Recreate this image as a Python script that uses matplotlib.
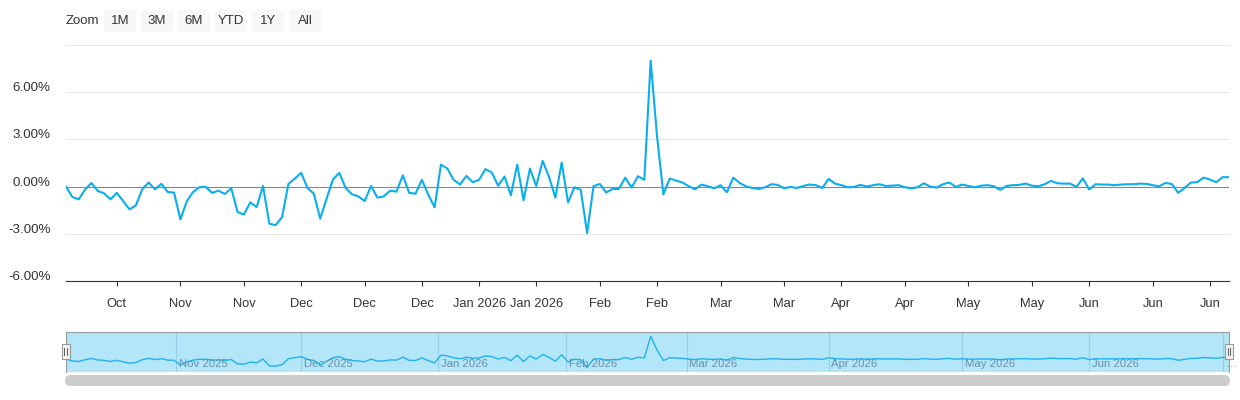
import numpy as np
import pandas as pd
import matplotlib
matplotlib.use("Agg")
import matplotlib.pyplot as plt
import matplotlib.transforms as mtrans
from matplotlib.patches import FancyBboxPatch, Rectangle

plt.rcParams['font.family'] = ['Liberation Sans', 'DejaVu Sans']

# trading calendar
start_day = "2025-10-08"
end_day = "2026-07-02"
holidays = ["2025-11-27", "2025-12-25", "2026-01-01", "2026-01-19",
            "2026-02-16", "2026-04-03", "2026-05-25", "2026-06-19"]

# daily change in %
returns = [
    0.00, -0.66, -0.81, -0.19, 0.23, -0.28, -0.43, -0.81, -0.40, -0.92,
    -1.45, -1.19, -0.17, 0.26, -0.17, 0.17, -0.34, -0.38, -2.09, -0.94,
    -0.34, -0.04, -0.02, -0.40, -0.26, -0.47, -0.11, -1.62, -1.77, -1.00,
    -1.30, 0.04, -2.36, -2.45, -1.94, 0.17, 0.51, 0.87, -0.09, -0.45,
    -2.04, -0.77, 0.45, 0.87, -0.09, -0.49, -0.62, -0.92, 0.04, -0.70,
    -0.62, -0.26, -0.32, 0.72, -0.40, -0.45, 0.43, -0.51, -1.32, 1.40,
    1.15, 0.43, 0.13, 0.68, 0.28, 0.43, 1.11, 0.89, 0.06, 0.64,
    -0.55, 1.40, -0.87, 1.15, 0.04, 1.64, 0.62, -0.70, 1.53, -1.00,
    -0.04, -0.21, -2.96, 0.02, 0.17, -0.38, -0.15, -0.15, 0.57, -0.06,
    0.66, 0.43, 8.00, 3.20, -0.49, 0.51, 0.38, 0.26, 0.02, -0.17,
    0.13, 0.02, -0.11, 0.09, -0.36, 0.57, 0.23, 0.02, -0.09, -0.15,
    -0.04, 0.15, 0.11, -0.11, -0.02, -0.09, 0.04, 0.13, 0.09, -0.09,
    0.49, 0.19, 0.09, -0.04, -0.02, 0.11, 0.00, 0.09, 0.15, 0.04,
    0.06, 0.09, -0.04, -0.11, -0.04, 0.21, 0.00, -0.06, 0.15, 0.26,
    -0.02, 0.13, 0.04, -0.04, 0.06, 0.09, 0.02, -0.21, 0.04, 0.09,
    0.11, 0.19, 0.06, 0.02, 0.15, 0.36, 0.21, 0.19, 0.19, -0.02,
    0.53, -0.19, 0.15, 0.13, 0.13, 0.09, 0.13, 0.15, 0.15, 0.19,
    0.17, 0.09, 0.02, 0.23, 0.17, -0.40, -0.09, 0.26, 0.28, 0.57,
    0.45, 0.28, 0.60, 0.60,
]

tick_dates = ["2025-10-20", "2025-11-03", "2025-11-17", "2025-12-01", "2025-12-15",
              "2025-12-29", "2026-01-12", "2026-01-26", "2026-02-09", "2026-02-23",
              "2026-03-09", "2026-03-23", "2026-04-06", "2026-04-20", "2026-05-04",
              "2026-05-18", "2026-06-01", "2026-06-15", "2026-06-29"]
tick_labels = ["Oct", "Nov", "Nov", "Dec", "Dec", "Dec", "Jan 2026", "Jan 2026",
               "Feb", "Feb", "Mar", "Mar", "Apr", "Apr", "May", "May",
               "Jun", "Jun", "Jun"]

y_ticks = [-6, -3, 0, 3, 6, 9]
y_labels = ["-6.00%", "-3.00%", "0.00%", "3.00%", "6.00%", ""]

nav_months = ["2025-11-01", "2025-12-01", "2026-01-01", "2026-02-01", "2026-03-01",
              "2026-04-01", "2026-05-01", "2026-06-01", "2026-07-01"]
nav_labels = ["Nov 2025", "Dec 2025", "Jan 2026", "Feb 2026", "Mar 2026",
              "Apr 2026", "May 2026", "Jun 2026", "\u2026"]

zoom_buttons = ["1M", "3M", "6M", "YTD", "1Y", "All"]

LINE = '#0aaeee'
TEXT = '#333333'

days = pd.bdate_range(start_day, end_day, freq="C", holidays=holidays)
x = np.arange(len(days))
y = np.array(returns)

W, H = 1240, 400
fig = plt.figure(figsize=(W / 100, H / 100), dpi=100)


def box(l, t, r, b):
    return [l / W, 1 - b / H, (r - l) / W, (b - t) / H]


def inch(v):
    return v / 100


# main chart
ax = fig.add_axes(box(66, 45, 1229, 281))
ax.plot(x, y, color=LINE, lw=1.5, solid_joinstyle='round', zorder=3)
ax.axhline(0, color='#7d8a98', lw=0.8, zorder=2)
ax.set_xlim(0, len(days) - 1)
ax.set_ylim(-6, 9)
ax.set_yticks(y_ticks)
ax.set_yticklabels(y_labels)
ax.grid(axis='y', color='#e6e6e6', lw=0.75)
ax.set_axisbelow(True)
for s in ['top', 'left', 'right']:
    ax.spines[s].set_visible(False)
ax.spines['bottom'].set_color(TEXT)
ax.spines['bottom'].set_linewidth(0.8)

tick_pos = [days.get_loc(pd.Timestamp(d)) for d in tick_dates]
ax.set_xticks(tick_pos)
ax.set_xticklabels(tick_labels)
ax.tick_params(axis='x', length=3.8, width=0.8, color=TEXT, pad=8.5,
               labelsize=9.3, labelcolor=TEXT)
ax.tick_params(axis='y', length=0, pad=11, labelsize=9.6, labelcolor=TEXT)
shift = mtrans.ScaledTranslation(0, 0.055, fig.dpi_scale_trans)
for lbl in ax.get_yticklabels():
    lbl.set_transform(lbl.get_transform() + shift)

# navigator
nav = fig.add_axes(box(66, 331.5, 1229, 371.7))
nav.set_facecolor('#b2e6f8')
nav.plot(x, y, color='#22b2ee', lw=1.0)
nav.set_xlim(0, len(days) - 1)
nav.set_ylim(-4.4, 9.7)
nav.set_xticks([])
nav.set_yticks([])
for s in ['top', 'left', 'right']:
    nav.spines[s].set_color('#9a9a9a')
    nav.spines[s].set_linewidth(0.8)
nav.spines['bottom'].set_visible(False)

month_ns = pd.to_datetime(nav_months).values.astype('int64')
day_ns = days.values.astype('int64')
month_pos = np.interp(month_ns, day_ns, x)
for pos, lab in zip(month_pos, nav_labels):
    nav.axvline(pos, color='#98cfe6', lw=0.8, zorder=1)
    nav.annotate(lab, (pos, 0.19), xycoords=('data', 'axes fraction'),
                 xytext=(2, 0), textcoords='offset points', ha='left', va='center',
                 fontsize=8.2, color='#6b8ea6', annotation_clip=False)

# navigator handles
for hx in [65.5, 1229]:
    fig.add_artist(Rectangle((inch(hx - 4), inch(H - 359)), inch(8), inch(15),
                             transform=fig.dpi_scale_trans, fc='#f2f2f2',
                             ec='#999999', lw=0.8, zorder=5))
    for dx in [-1.2, 1.2]:
        fig.add_artist(plt.Line2D([inch(hx + dx)] * 2, [inch(H - 355), inch(H - 348)],
                                  transform=fig.dpi_scale_trans, color='#444444',
                                  lw=0.6, zorder=6))

# scrollbar
fig.add_artist(FancyBboxPatch((inch(65), inch(H - 386)), inch(1230 - 65), inch(11),
                              boxstyle="round,pad=0,rounding_size=0.055",
                              transform=fig.dpi_scale_trans, fc='#cccccc', ec='none'))

# range selector
fig.text(66 / W, 1 - 21 / H, "Zoom", ha='left', va='center', fontsize=9.5, color=TEXT)
for i, lab in enumerate(zoom_buttons):
    bx = 104 + i * 37
    fig.add_artist(FancyBboxPatch((inch(bx), inch(H - 32)), inch(32), inch(22),
                                  boxstyle="round,pad=0,rounding_size=0.02",
                                  transform=fig.dpi_scale_trans, fc='#f7f7f7', ec='none'))
    fig.text((bx + 16) / W, 1 - 21 / H, lab, ha='center', va='center',
             fontsize=9.5, color=TEXT)

fig.savefig("out.png", dpi=100)
